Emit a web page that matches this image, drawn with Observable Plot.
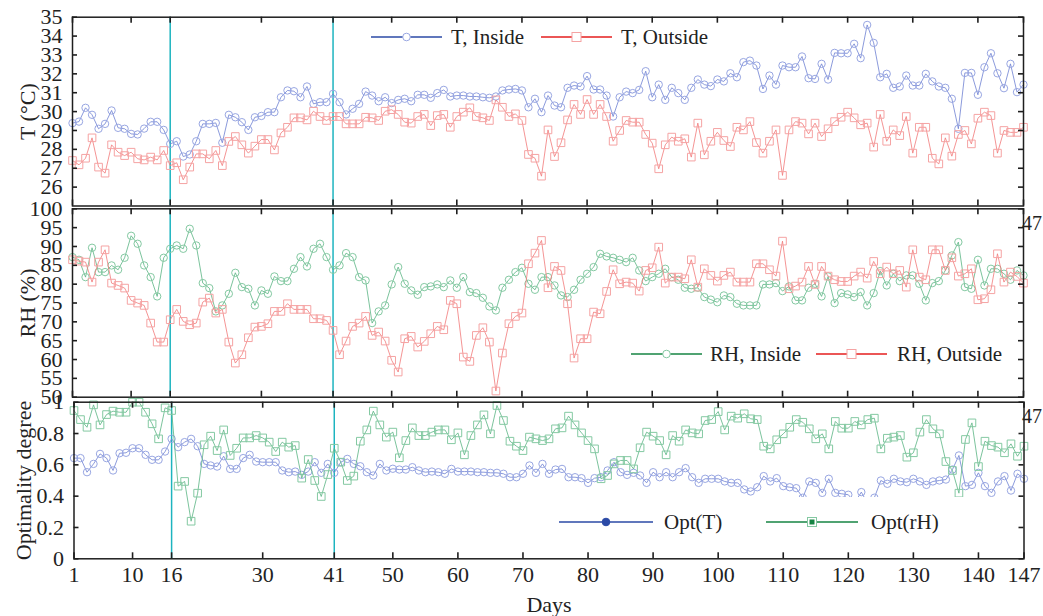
<!DOCTYPE html>
<html><head><meta charset="utf-8">
<script src="https://cdn.jsdelivr.net/npm/d3@7"></script>
<script src="https://cdn.jsdelivr.net/npm/@observablehq/plot@0.6"></script>
<style>
body{margin:0;background:#fff;}
#chart{position:relative;width:1043px;height:616px;overflow:hidden;background:#fff;font-family:"Liberation Serif",serif;}
#chart svg{position:absolute;left:0;top:0;}
</style></head><body><div id="chart"></div>
<script>
// ---------- data ----------
const days = d3.range(1, 148);
const markerDays = [16, 41];
const xTickDays = [1, 10, 16, 30, 41, 50, 60, 70, 80, 90, 100, 110, 120, 130, 140, 147];
const tTicks = [26, 27, 28, 29, 30, 31, 32, 33, 34, 35];
const rhTicks = [50, 55, 60, 65, 70, 75, 80, 85, 90, 95, 100];
const optTicks = [0, 0.2, 0.4, 0.6, 0.8, 1];

const tInside = [29.39,29.47,30.2,29.83,29.09,29.35,30.06,29.14,29.09,28.82,
28.79,29.1,29.46,29.46,29.03,28.29,28.43,27.62,27.73,28.43,
29.35,29.35,29.4,28.35,29.83,29.7,29.44,29.03,29.7,29.77,
29.97,29.97,30.76,31.12,31.08,30.76,31.33,30.41,30.5,30.5,
30.94,30.5,29.85,30.15,30.41,31.06,30.85,30.55,30.76,30.45,
30.62,30.68,30.55,30.89,30.89,30.73,30.98,31.15,30.8,30.85,
30.85,30.8,30.8,30.76,30.73,30.8,31.12,31.17,31.2,31.12,
30.23,30.68,29.97,30.85,30.32,30.23,31.26,31.38,31.33,31.88,
31.17,31.17,30.85,29.74,30.76,31.06,30.98,31.15,32.14,30.76,
31.43,30.62,31.26,30.98,30.62,31.26,31.7,31.43,31.35,31.7,
31.6,32.03,31.82,32.62,32.7,32.44,31.2,31.91,31.43,32.44,
32.35,32.35,32.92,31.77,31.73,32.53,31.7,33.11,33.09,33.09,
33.59,32.83,34.59,33.64,31.82,32.0,31.26,31.33,31.91,31.38,
31.38,32.0,31.6,31.33,31.26,30.68,29.09,32.05,32.05,30.89,
32.35,33.09,32.03,31.24,32.53,31.03,31.43];

const tOutside = [27.41,27.18,27.53,28.61,27.06,26.74,28.24,27.85,27.67,27.85,
27.5,27.44,27.59,27.44,27.94,27.14,27.29,26.39,27.06,27.76,
27.76,27.5,27.94,27.14,28.42,28.68,28.24,27.8,28.17,28.52,
28.52,27.97,28.87,29.17,29.67,29.67,29.56,30.02,29.74,29.53,
29.74,29.74,29.35,29.35,29.35,29.7,29.67,29.53,30.02,30.1,
29.85,29.44,29.39,29.74,29.85,29.26,29.79,29.85,29.17,29.74,
29.97,30.2,29.74,29.67,29.53,30.62,30.23,29.74,29.88,29.53,
27.73,27.53,26.58,29.03,27.62,28.35,29.56,30.38,29.85,30.64,
29.85,30.38,29.74,28.43,29.0,29.53,29.44,29.44,28.79,28.33,
26.97,28.24,28.65,28.43,28.56,27.59,29.39,27.71,28.43,28.9,
28.47,28.15,29.17,29.03,29.47,28.36,27.8,28.43,29.03,26.62,
29.03,29.47,29.39,28.82,29.39,28.68,29.09,29.47,29.7,29.97,
29.67,29.3,29.39,28.12,29.85,28.43,29.03,28.73,29.74,27.8,
29.17,29.17,27.53,27.23,28.61,27.64,28.79,29.0,28.29,29.65,
29.97,29.79,27.8,29.0,28.9,28.9,29.17];

const rhInside = [87.18,86.47,81.87,89.66,83.2,83.2,84.97,83.82,87.0,92.84,
90.72,84.97,81.87,76.75,87.0,89.39,90.27,89.39,94.7,90.27,
80.28,78.96,72.77,74.36,77.45,83.02,79.22,78.78,74.36,78.34,
77.45,82.05,80.81,80.81,84.08,87.18,84.7,89.39,90.72,87.18,
83.82,84.97,88.24,87.18,81.87,80.99,69.67,72.77,74.36,79.93,
84.53,80.1,78.34,77.19,79.22,79.4,79.93,79.22,80.99,79.05,
81.87,77.9,77.63,76.39,74.09,73.03,79.05,81.17,83.2,84.35,
80.1,78.51,81.87,81.87,79.66,77.01,76.57,78.51,81.17,82.76,
84.53,88.06,87.36,87.0,86.47,85.85,87.0,83.64,80.81,81.87,
82.76,84.08,81.87,81.17,79.05,78.78,79.05,76.57,75.9,75.2,
77.0,76.57,74.8,74.36,74.36,74.36,79.93,79.93,80.28,78.16,
79.4,75.69,75.69,79.05,80.1,76.75,82.05,74.98,77.63,77.28,
76.57,77.9,74.36,77.63,83.47,79.66,82.76,80.81,82.32,82.32,
80.1,75.69,80.28,80.81,83.64,87.62,91.16,79.22,78.78,86.47,
79.66,84.08,84.08,82.76,81.17,83.64,82.32];

const rhOutside = [86.47,86.12,85.85,80.55,85.85,89.12,80.28,79.66,78.96,75.69,
74.98,74.36,69.67,64.63,64.63,70.56,73.3,70.12,69.23,69.67,
75.24,76.3,72.33,73.3,64.63,59.06,61.27,65.78,68.61,68.79,
69.5,72.77,72.77,74.8,73.3,73.3,73.3,70.82,70.82,70.38,
67.73,61.27,64.9,68.79,69.67,71.44,66.4,67.29,64.9,59.8,
56.68,65.52,66.14,63.31,64.81,66.84,68.79,67.9,75.69,74.8,
60.65,59.5,66.4,68.44,64.63,51.64,61.72,69.5,71.44,72.33,
85.41,88.24,91.6,79.05,84.7,83.64,74.8,60.39,65.52,65.52,
72.59,72.15,78.07,83.82,80.1,80.55,80.28,78.16,83.64,84.35,
89.83,80.28,81.87,81.87,81.43,86.47,79.22,84.08,82.32,80.81,
82.32,83.2,80.55,80.55,80.55,85.41,85.41,83.82,82.14,91.42,
78.78,79.49,80.55,84.7,79.93,84.7,82.14,81.17,80.72,80.72,
82.14,83.2,81.6,86.03,82.76,84.53,82.76,83.64,79.22,89.12,
81.87,81.17,89.12,89.12,83.64,87.0,82.14,82.76,84.08,75.86,
76.13,78.51,88.06,80.55,83.2,82.05,80.28];

const optT = [0.643,0.643,0.553,0.606,0.67,0.643,0.564,0.674,0.677,0.706,
0.706,0.664,0.632,0.632,0.685,0.766,0.713,0.745,0.766,0.719,
0.606,0.596,0.589,0.655,0.574,0.574,0.643,0.664,0.621,0.617,
0.617,0.617,0.564,0.553,0.557,0.536,0.557,0.617,0.549,0.606,
0.549,0.617,0.638,0.606,0.591,0.553,0.532,0.606,0.564,0.575,
0.57,0.57,0.585,0.564,0.553,0.557,0.553,0.543,0.574,0.557,
0.557,0.557,0.553,0.553,0.549,0.549,0.543,0.521,0.521,0.543,
0.596,0.549,0.606,0.543,0.57,0.574,0.521,0.521,0.515,0.485,
0.515,0.521,0.564,0.617,0.553,0.536,0.549,0.532,0.485,0.553,
0.521,0.553,0.521,0.553,0.579,0.521,0.485,0.511,0.511,0.511,
0.494,0.485,0.485,0.443,0.43,0.457,0.528,0.494,0.515,0.464,
0.457,0.451,0.39,0.494,0.485,0.421,0.511,0.421,0.415,0.409,
0.36,0.426,0.35,0.39,0.5,0.479,0.511,0.494,0.489,0.511,
0.494,0.472,0.494,0.5,0.506,0.57,0.66,0.464,0.472,0.549,
0.464,0.421,0.494,0.528,0.436,0.543,0.511];

const optRH = [0.947,0.889,0.84,0.983,0.855,0.921,0.943,0.936,0.936,1.0,
1.0,0.936,0.862,0.766,0.964,0.947,0.464,0.494,0.24,0.419,
0.728,0.783,0.691,0.823,0.66,0.706,0.772,0.772,0.787,0.772,
0.745,0.685,0.745,0.713,0.723,0.515,0.634,0.5,0.398,0.538,
0.706,0.617,0.5,0.528,0.751,0.823,0.943,0.855,0.777,0.809,
0.645,0.755,0.836,0.787,0.787,0.809,0.823,0.823,0.76,0.804,
0.664,0.787,0.855,0.919,0.798,0.979,0.883,0.751,0.719,0.691,
0.777,0.766,0.755,0.766,0.83,0.836,0.911,0.855,0.804,0.755,
0.702,0.511,0.532,0.606,0.628,0.628,0.574,0.709,0.809,0.783,
0.755,0.664,0.787,0.751,0.823,0.804,0.798,0.883,0.889,0.94,
0.823,0.911,0.898,0.926,0.894,0.889,0.719,0.702,0.76,0.798,
0.84,0.889,0.872,0.83,0.766,0.798,0.702,0.877,0.834,0.834,
0.877,0.855,0.889,0.898,0.702,0.77,0.777,0.787,0.649,0.677,
0.809,0.889,0.83,0.798,0.621,0.564,0.419,0.762,0.868,0.589,
0.751,0.723,0.713,0.677,0.734,0.655,0.719];

// ---------- styles ----------
const W = 1043, H = 616;
const FONT = "'Liberation Serif', 'DejaVu Serif', serif";
const C = {
  blueLine: "#6f82d2", blueDot: "#98a6e2", blueDark: "#2b4aa6",
  redLine: "#f27a7a", redDot: "#f5a3a3", redDark: "#e41e1e",
  greenLine: "#5cb584", greenDot: "#84c9a2", greenDark: "#168443",
  cyan: "#1db4bf", axis: "#1e1e1e"
};

const table = days.map((d, i) => ({
  day: d, tIn: tInside[i], tOut: tOutside[i], rhIn: rhInside[i], rhOut: rhOutside[i], oT: optT[i], oRH: optRH[i]
}));

function seriesMarks(key, lineColor, dotColor, symbol) {
  return [
    Plot.line(table, {x: "day", y: key, stroke: lineColor, strokeWidth: 0.9, strokeOpacity: 0.9}),
    Plot.dot(table, {x: "day", y: key, stroke: dotColor, strokeWidth: 1, fill: "none",
      symbol: symbol, r: symbol === "square" ? 4.3 : 3.7})
  ];
}

function panel({top, bottom, left, right, yDomain, yTicks, yLabel, labelDx, series, showX}) {
  const innerW = W - left - right, innerH = H - top - bottom;
  const marks = [
    Plot.ruleX(markerDays, {x: d => d, stroke: C.cyan, strokeWidth: 1.5}),
    ...series,
    Plot.tickY(yTicks, {y: d => d, insetRight: innerW - 5, stroke: C.axis, strokeWidth: 1.6}),
    Plot.tickY(yTicks, {y: d => d, insetLeft: innerW - 5, stroke: C.axis, strokeWidth: 1.6}),
    Plot.tickX(xTickDays, {x: d => d, insetBottom: innerH - 6, stroke: C.axis, strokeWidth: 1.6}),
    Plot.tickX(xTickDays, {x: d => d, insetTop: innerH - 6, stroke: C.axis, strokeWidth: 1.6}),
    Plot.axisY({ticks: yTicks, tickSize: 0, tickPadding: 10, label: null, tickFormat: d => String(d),
      fontSize: 22, fontFamily: FONT, fill: "#222"}),
    Plot.frame({stroke: C.axis, strokeWidth: 1.5}),
    Plot.text([yLabel], {frameAnchor: "left", dx: labelDx, rotate: -90, textAnchor: "middle", lineAnchor: "middle",
      fontSize: 22, fontFamily: FONT, fill: "#222", text: d => d})
  ];
  if (showX) {
    marks.push(
      Plot.axisX({ticks: xTickDays, tickSize: 0, tickPadding: 8, label: null, tickFormat: d => String(d),
        fontSize: 22, fontFamily: FONT, fill: "#222"}),
      Plot.text(["Days"], {frameAnchor: "bottom", dy: 46, textAnchor: "middle", lineAnchor: "middle",
        fontSize: 22, fontFamily: FONT, fill: "#222", text: d => d})
    );
  }
  return Plot.plot({
    width: W, height: H,
    marginTop: top, marginBottom: bottom, marginLeft: left, marginRight: right,
    x: {domain: [1, 147], axis: null},
    y: {domain: yDomain, axis: null},
    style: {background: "transparent", fontFamily: FONT, fontSize: "22px", color: "#222", overflow: "visible"},
    marks
  });
}

const chart = document.getElementById("chart");

chart.append(panel({
  top: 16.7, bottom: H - 205.5, left: 72, right: W - 1023,
  yDomain: [25, 35], yTicks: tTicks, yLabel: "T (°C)", labelDx: -45,
  series: [...seriesMarks("tIn", C.blueLine, C.blueDot, "circle"), ...seriesMarks("tOut", C.redLine, C.redDot, "square")],
  showX: false
}));

chart.append(panel({
  top: 208.3, bottom: H - 396.7, left: 72, right: W - 1023,
  yDomain: [50, 100], yTicks: rhTicks, yLabel: "RH (%)", labelDx: -45,
  series: [...seriesMarks("rhIn", C.greenLine, C.greenDot, "circle"), ...seriesMarks("rhOut", C.redLine, C.redDot, "square")],
  showX: false
}));

chart.append(panel({
  top: 401.7, bottom: H - 558.3, left: 73.5, right: W - 1023.5,
  yDomain: [0, 1], yTicks: optTicks, yLabel: "Optimality degree", labelDx: -50,
  series: [...seriesMarks("oT", C.blueLine, C.blueDot, "circle"), ...seriesMarks("oRH", C.greenLine, C.greenDot, "square")],
  showX: true
}));

// ---------- legends overlay ----------
const ov = d3.select(chart).append("svg").attr("width", W).attr("height", H)
  .style("font-family", FONT).style("font-size", "21px");

function legendItem(g, x1, x2, y, color, marker, mColor, label, tx, filled) {
  g.append("line").attr("x1", x1).attr("x2", x2).attr("y1", y).attr("y2", y)
    .attr("stroke", color).attr("stroke-width", 1.4);
  const mx = (x1 + x2) / 2;
  if (marker === "circle") {
    g.append("circle").attr("cx", mx).attr("cy", y).attr("r", 3.8)
      .attr("fill", filled ? color : "#fff").attr("stroke", mColor).attr("stroke-width", 1);
  } else {
    g.append("rect").attr("x", mx - 4.5).attr("y", y - 4.5).attr("width", 9).attr("height", 9)
      .attr("fill", "#fff").attr("stroke", mColor).attr("stroke-width", 1);
    if (filled) g.append("rect").attr("x", mx - 2.5).attr("y", y - 2.5).attr("width", 5).attr("height", 5).attr("fill", color);
  }
  g.append("text").attr("x", tx).attr("y", y).attr("dy", "0.35em").attr("fill", "#222").text(label);
}

// T panel
legendItem(ov, 371, 442, 37, C.blueDark, "circle", C.blueDot, "T, Inside", 451, false);
legendItem(ov, 541, 612, 37, C.redDark, "square", C.redDot, "T, Outside", 621, false);
// RH panel
legendItem(ov, 631, 702, 354, C.greenDark, "circle", C.greenDot, "RH, Inside", 710, false);
legendItem(ov, 816, 887, 354, C.redDark, "square", C.redDot, "RH, Outside", 897, false);
// Opt panel (legend box with white background)
ov.append("rect").attr("x", 545).attr("y", 497).attr("width", 460).attr("height", 50).attr("fill", "#fff");
legendItem(ov, 559, 653, 522, C.blueDark, "circle", C.blueDark, "Opt(T)", 664, true);
legendItem(ov, 766, 858, 522, C.greenDark, "square", C.greenDot, "Opt(rH)", 871, true);

// clipped "147" remnants at the right edge
ov.append("text").attr("x", 1022).attr("y", 223).attr("dy", "0.35em").style("font-size", "20px").attr("fill", "#222").text("47");
ov.append("text").attr("x", 1022).attr("y", 416).attr("dy", "0.35em").style("font-size", "20px").attr("fill", "#222").text("47");
</script></body></html>
